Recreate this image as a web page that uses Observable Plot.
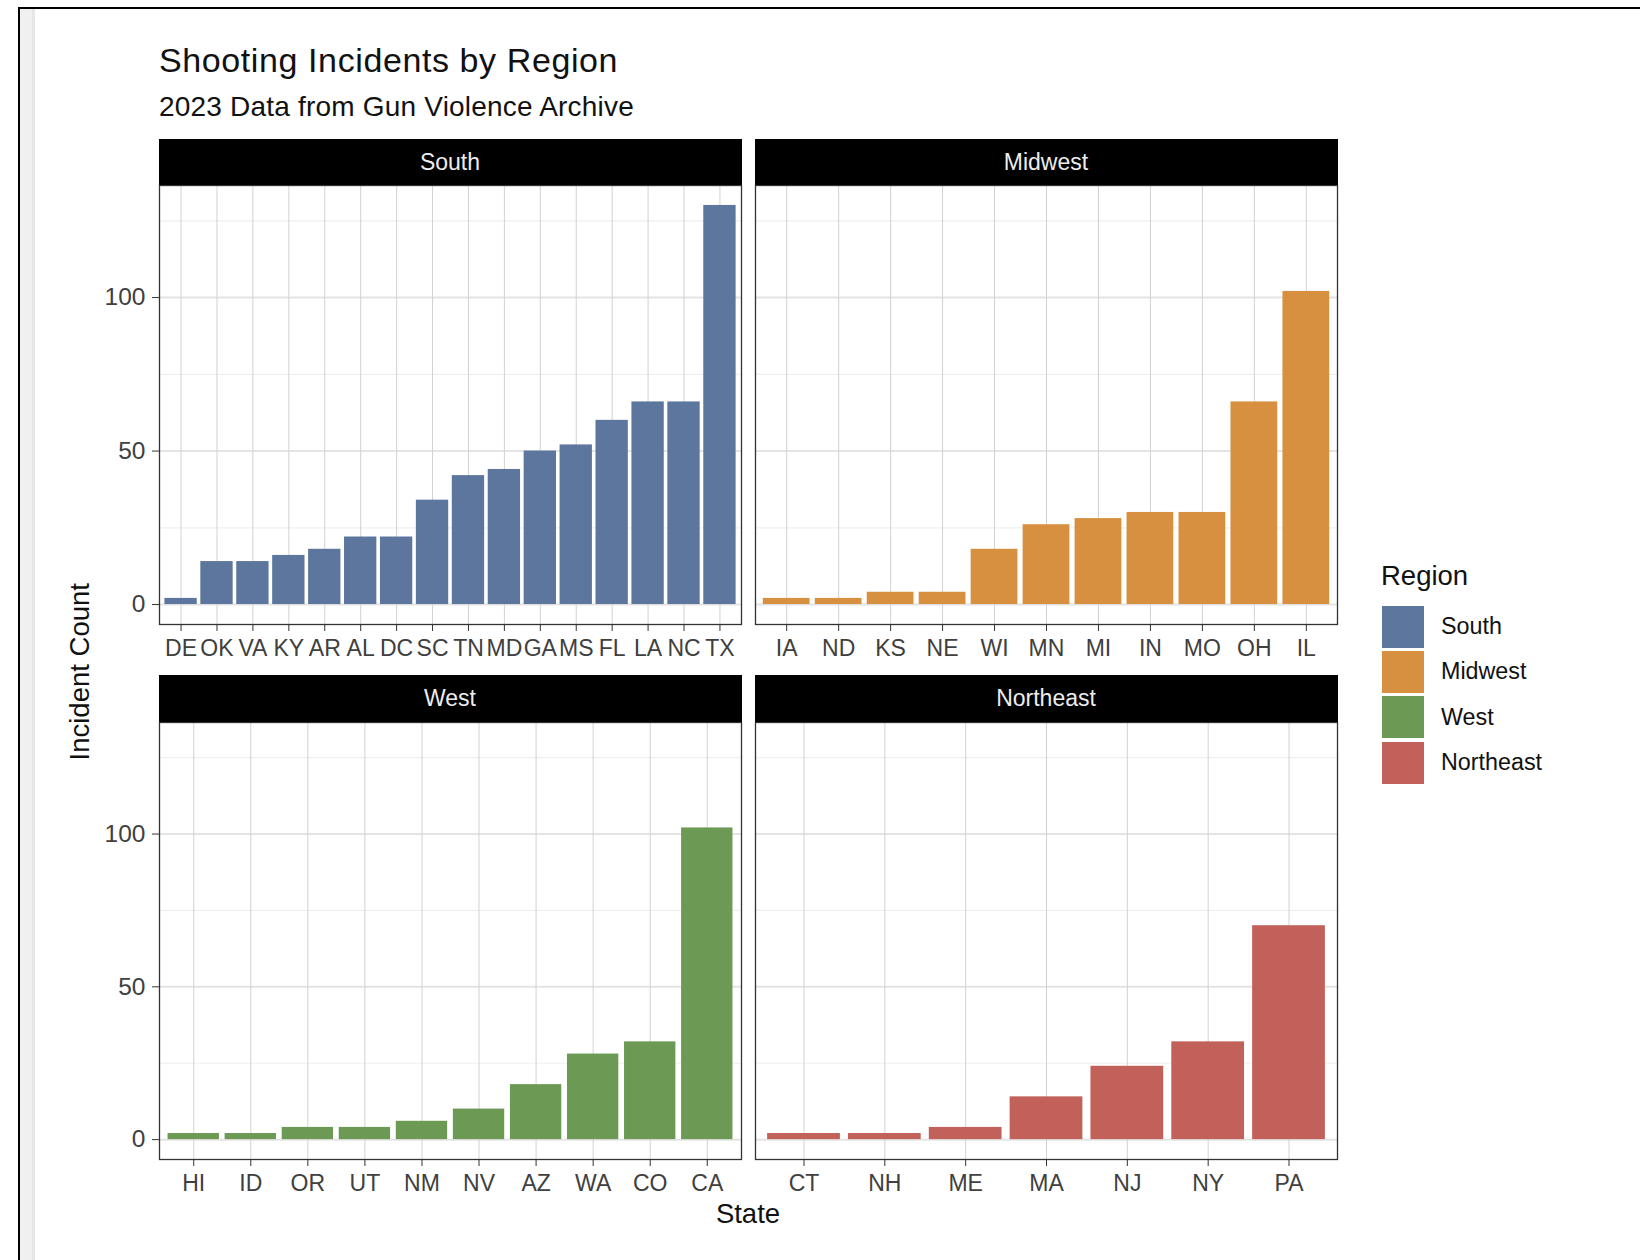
<!DOCTYPE html>
<html>
<head>
<meta charset="utf-8">
<script src="https://cdn.jsdelivr.net/npm/d3@7"></script>
<script src="https://cdn.jsdelivr.net/npm/@observablehq/plot@0.6"></script>
<style>
  html, body { margin: 0; padding: 0; background: #fff; }
  #root { position: relative; width: 1640px; height: 1260px; overflow: hidden; background: #fff;
          font-family: "Liberation Sans", Arial, Helvetica, sans-serif; color: #111; }
  .abs { position: absolute; }
  .strip { position: absolute; background: #000; color: #ededed; font-size: 23px; text-align: center; }
  .txt { position: absolute; white-space: nowrap; line-height: 1; }
</style>
</head>
<body>
<div id="root"></div>
<script>
// ---------- data ----------
const regions = ["South", "Midwest", "West", "Northeast"];
const regionColors = ["#5d769d", "#d6903f", "#6c9954", "#c2605a"];

const southStates = ["DE","OK","VA","KY","AR","AL","DC","SC","TN","MD","GA","MS","FL","LA","NC","TX"];
const southCounts = [2,14,14,16,18,22,22,34,42,44,50,52,60,66,66,130];

const midwestStates = ["IA","ND","KS","NE","WI","MN","MI","IN","MO","OH","IL"];
const midwestCounts = [2,2,4,4,18,26,28,30,30,66,102];

const westStates = ["HI","ID","OR","UT","NM","NV","AZ","WA","CO","CA"];
const westCounts = [2,2,4,4,6,10,18,28,32,102];

const northeastStates = ["CT","NH","ME","MA","NJ","NY","PA"];
const northeastCounts = [2,2,4,14,24,32,70];

const yTicks = [0, 50, 100];
const yMinorTicks = [25, 75, 125];

const titleText = "Shooting Incidents by Region";
const subtitleText = "2023 Data from Gun Violence Archive";
const xTitle = "State";
const yTitle = "Incident Count";
const legendTitle = "Region";

// ---------- layout ----------
const root = document.getElementById("root");
const FONT = '"Liberation Sans", Arial, Helvetica, sans-serif';

function addDiv(cls, styles, text) {
  const d = document.createElement("div");
  d.className = cls;
  Object.assign(d.style, styles);
  if (text != null) d.textContent = text;
  root.appendChild(d);
  return d;
}

// screenshot frame (top/left border and grey strip)
addDiv("abs", {left: "18px", top: "7px", width: "1622px", height: "2px", background: "#000"});
addDiv("abs", {left: "18px", top: "7px", width: "2px", height: "1253px", background: "#000"});
addDiv("abs", {left: "20px", top: "9px", width: "12px", height: "1251px", background: "#f0f0f0"});
addDiv("abs", {left: "32px", top: "9px", width: "3px", height: "1251px", background: "#e6e6e6"});

// titles
addDiv("txt", {left: "159px", top: "43px", fontSize: "34px", letterSpacing: "0.6px", color: "#111"}, titleText);
addDiv("txt", {left: "159px", top: "93px", fontSize: "28px", letterSpacing: "0.2px", color: "#111"}, subtitleText);

// panels
const panelW = 582;
const panels = [
  {name: regions[0], states: southStates, counts: southCounts, color: regionColors[0], left: 159, top: 185, h: 439, showY: true, stripTop: 139},
  {name: regions[1], states: midwestStates, counts: midwestCounts, color: regionColors[1], left: 755, top: 185, h: 439, showY: false, stripTop: 139},
  {name: regions[2], states: westStates, counts: westCounts, color: regionColors[2], left: 159, top: 722, h: 437, showY: true, stripTop: 675},
  {name: regions[3], states: northeastStates, counts: northeastCounts, color: regionColors[3], left: 755, top: 722, h: 437, showY: false, stripTop: 675}
];

for (const p of panels) {
  const data = p.states.map((s, i) => ({state: s, count: p.counts[i]}));
  const mL = p.showY ? 80 : 2, mR = 2, mT = 1, mB = 50;
  const marks = [
    Plot.ruleY(yMinorTicks, {stroke: "#efefef", strokeWidth: 1.2}),
    Plot.ruleY(yTicks, {stroke: "#e4e4e4", strokeWidth: 2}),
    Plot.ruleX(p.states, {x: d => d, stroke: "#d2d2d2", strokeWidth: 1}),
    Plot.barY(data, {x: "state", y: "count", fill: p.color, inset: 0}),
    Plot.frame({stroke: "#333", strokeWidth: 1.3}),
    Plot.axisX({tickSize: 7, tickPadding: 8, fontSize: 23, color: "#404040", stroke: "#333", label: null})
  ];
  if (p.showY) {
    marks.push(Plot.axisY({ticks: yTicks, tickSize: 7, tickPadding: 7, fontSize: 24.5, color: "#404040", stroke: "#333", label: null}));
  }
  const chart = Plot.plot({
    width: panelW + mL + mR,
    height: p.h + mT + mB,
    marginLeft: mL, marginRight: mR, marginTop: mT, marginBottom: mB,
    style: {fontFamily: FONT, background: "transparent", overflow: "visible"},
    x: {domain: p.states, paddingInner: 0.1, paddingOuter: 0.15, round: false, label: null},
    y: {domain: [-6.5, 136.5], label: null, axis: p.showY ? undefined : null},
    marks
  });
  chart.style.position = "absolute";
  chart.style.left = (p.left - mL) + "px";
  chart.style.top = (p.top - mT) + "px";
  root.appendChild(chart);

  addDiv("strip", {left: (p.left - 0.5) + "px", top: p.stripTop + "px", width: (panelW + 1) + "px",
    height: (p.top - p.stripTop) + "px", lineHeight: (p.top - p.stripTop) + "px"}, p.name);
}

// axis titles
addDiv("txt", {left: "548px", top: "1200px", width: "400px", textAlign: "center", fontSize: "27.5px", color: "#111"}, xTitle);
addDiv("txt", {left: (80 - 200) + "px", top: (672 - 13.75) + "px", width: "400px", height: "27.5px",
  textAlign: "center", fontSize: "27.5px", lineHeight: "27.5px", color: "#111",
  transform: "rotate(-90deg)", transformOrigin: "50% 50%"}, yTitle);

// legend
addDiv("txt", {left: "1381px", top: "562px", fontSize: "27.5px", color: "#111"}, legendTitle);
regions.forEach((r, i) => {
  const top = 605.7 + i * 45.3;
  addDiv("abs", {left: "1382px", top: top + "px", width: "42px", height: "42px", background: regionColors[i]});
  addDiv("txt", {left: "1441px", top: (top + 21 - 11.7) + "px", fontSize: "23.3px", lineHeight: "23.3px", color: "#111"}, r);
});
</script>
</body>
</html>
